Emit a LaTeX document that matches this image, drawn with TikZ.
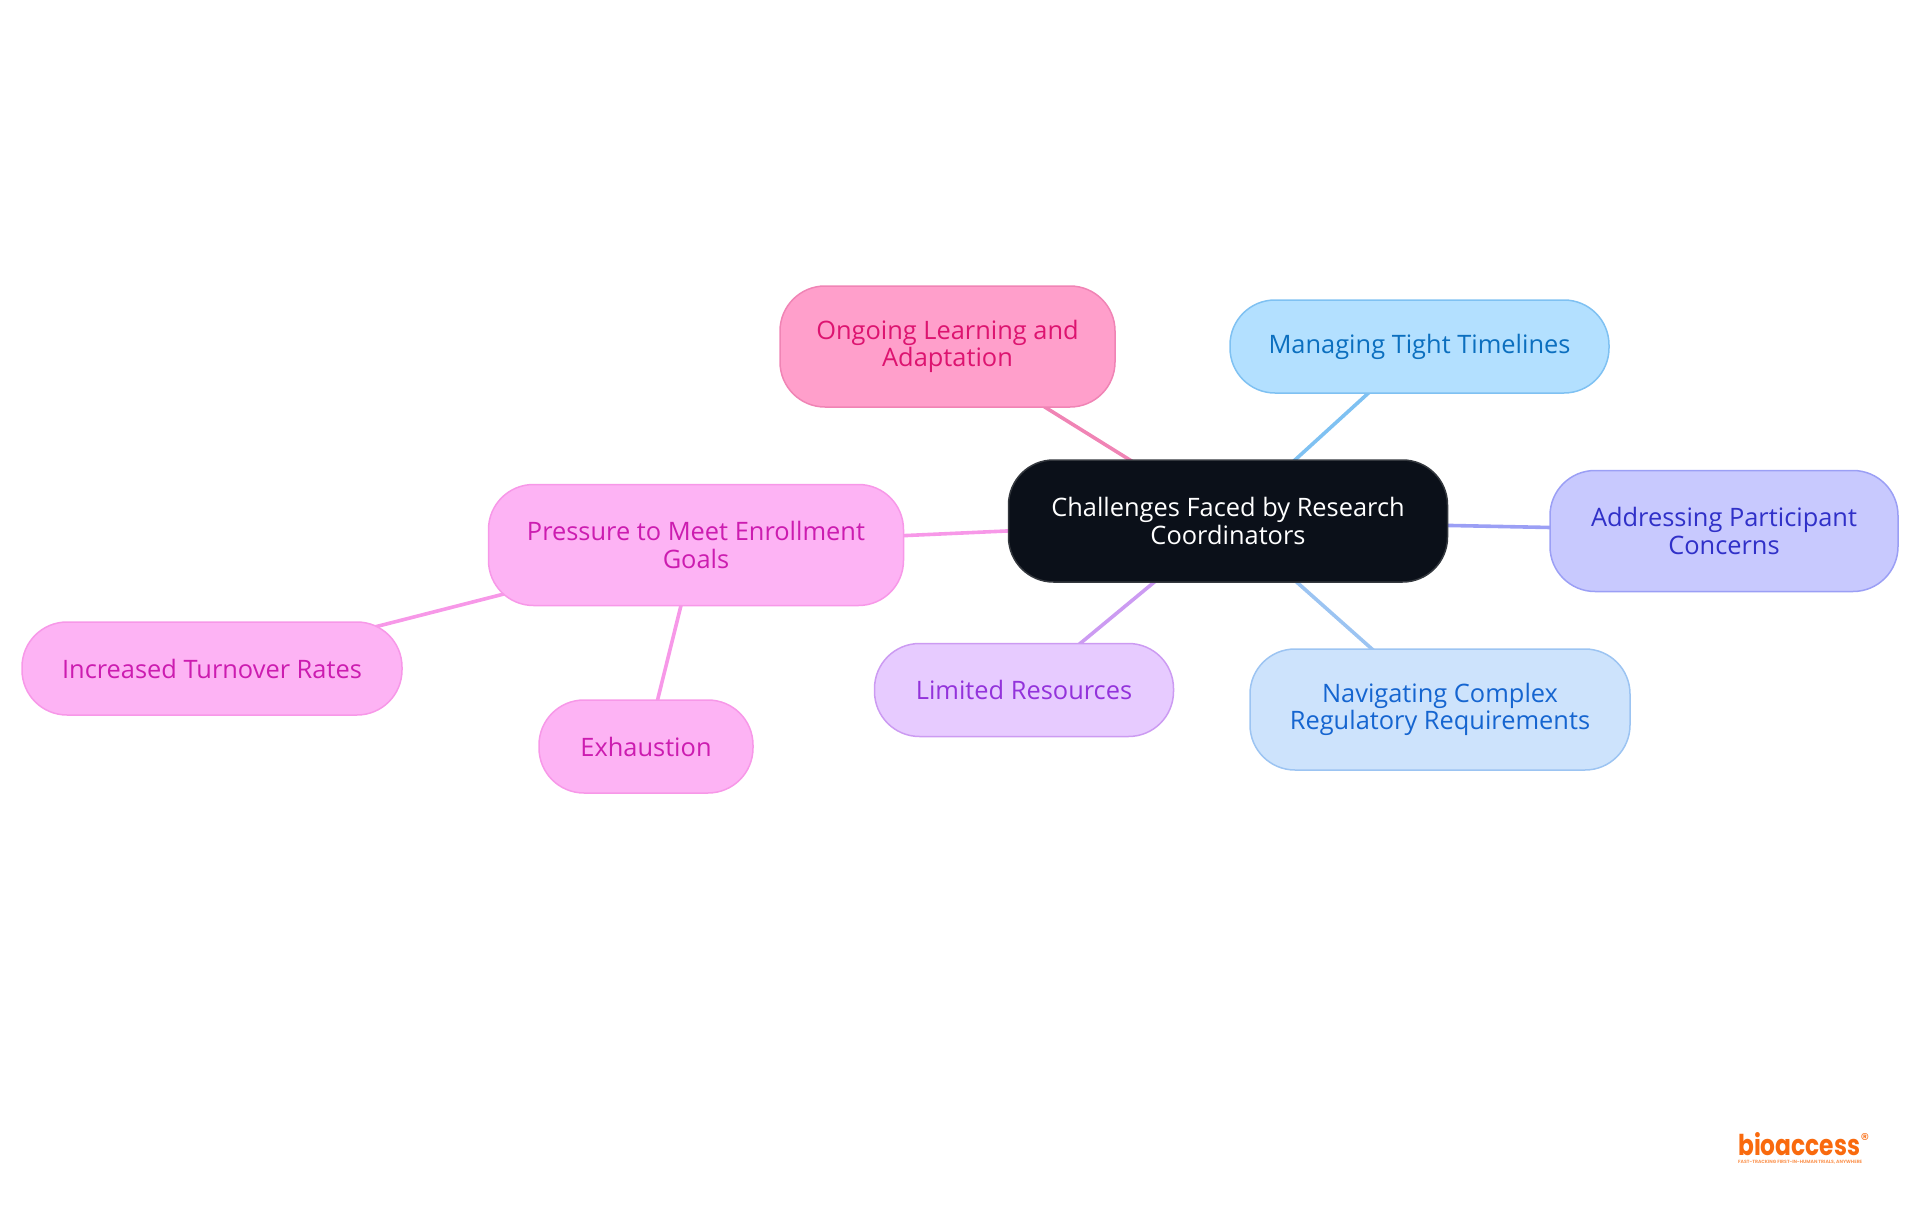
\documentclass[tikz,border=0pt]{standalone}
\usepackage{fontspec}
\usetikzlibrary{backgrounds}
\setmainfont{Open Sans}
\newfontfamily\logofont{Poppins}
\definecolor{rootF}{HTML}{0B1019}\definecolor{rootS}{HTML}{34383E}
\definecolor{ongF}{HTML}{FF9FCB}\definecolor{ongS}{HTML}{F084B5}\definecolor{ongT}{HTML}{DD1470}
\definecolor{manF}{HTML}{B3E0FF}\definecolor{manS}{HTML}{7FC1F2}\definecolor{manT}{HTML}{0B6FBF}
\definecolor{addF}{HTML}{C8C9FE}\definecolor{addS}{HTML}{9B9FF5}\definecolor{addT}{HTML}{3030C8}
\definecolor{navF}{HTML}{CDE3FC}\definecolor{navS}{HTML}{9CC4F2}\definecolor{navT}{HTML}{1565D0}
\definecolor{limF}{HTML}{E7CBFF}\definecolor{limS}{HTML}{CC9BF2}\definecolor{limT}{HTML}{9333DB}
\definecolor{preF}{HTML}{FDB3F4}\definecolor{preS}{HTML}{F798E8}\definecolor{preT}{HTML}{CC1CB0}
\definecolor{logoC}{HTML}{F96A0E}
\tikzset{
  box/.style={rectangle,rounded corners=45pt,line width=1.5pt,align=center,inner sep=0pt,outer sep=0pt,
    font=\fontsize{25.4}{27.2}\selectfont},
  tone/.style={draw=#1S,fill=#1F,text=#1T},
  rootbox/.style={box,draw=rootS,fill=rootF,text=white},
  link/.style={line width=3.6pt,draw=#1S},
}
\begin{document}
\begin{tikzpicture}[x=1pt,y=-1pt]
\useasboundingbox (0,0) rectangle (1920,1215);
\node[rootbox,minimum width=439pt,minimum height=122pt] (root) at (1228,521) {Challenges Faced by Research\\Coordinators};
\node[box,tone=ong,minimum width=335pt,minimum height=121pt] (ongoing) at (947.5,346.5) {Ongoing Learning and\\Adaptation};
\node[box,tone=man,minimum width=379pt,minimum height=93pt] (managing) at (1419.5,346.5) {Managing Tight Timelines};
\node[box,tone=add,minimum width=348pt,minimum height=121pt] (addressing) at (1724,531) {Addressing Participant\\Concerns};
\node[box,tone=nav,minimum width=380pt,minimum height=121pt] (navigating) at (1440,709.5) {Navigating Complex\\Regulatory Requirements};
\node[box,tone=lim,minimum width=299pt,minimum height=93pt] (limited) at (1024,690) {Limited Resources};
\node[box,tone=pre,minimum width=415pt,minimum height=121pt] (pressure) at (696,545) {Pressure to Meet Enrollment\\Goals};
\node[box,tone=pre,minimum width=380pt,minimum height=93pt] (turnover) at (212,668.5) {Increased Turnover Rates};
\node[box,tone=pre,minimum width=214pt,minimum height=93pt] (exhaustion) at (646,746.5) {Exhaustion};
\begin{pgfonlayer}{background}
\draw[link=ong] (root.center) -- (ongoing.center);
\draw[link=man] (root.center) -- (managing.center);
\draw[link=add] (root.center) -- (addressing.center);
\draw[link=nav] (root.center) -- (navigating.center);
\draw[link=lim] (root.center) -- (limited.center);
\draw[link=pre] (root.center) -- (pressure.center);
\draw[link=pre] (pressure.center) -- (turnover.center);
\draw[link=pre] (pressure.center) -- (exhaustion.center);
\end{pgfonlayer}
\node[text=logoC,inner sep=0pt,anchor=west] (logo) at (1738,1144.5) {\resizebox{122pt}{23pt}{\logofont\bfseries bioaccess}};
\node[text=logoC,inner sep=0pt,anchor=center] (logoreg) at (1865,1139) {\logofont\fontsize{17}{17}\selectfont ®};
\node[text=logoC!70,inner sep=0pt,anchor=west] (tagline) at (1738,1162.5) {\resizebox{124pt}{!}{\logofont\bfseries\fontsize{6}{6}\selectfont FAST-TRACKING FIRST-IN-HUMAN TRIALS, ANYWHERE}};
\end{tikzpicture}
\end{document}
